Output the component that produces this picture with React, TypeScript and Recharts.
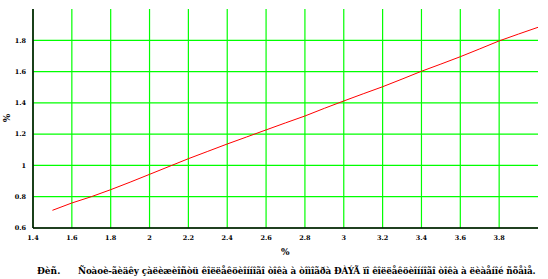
import React from 'react';
import { LineChart, Line, XAxis, YAxis, CartesianGrid } from 'recharts';

const xValues = [1.5, 1.6, 1.7, 1.8, 1.9, 2.0, 2.1, 2.2, 2.3, 2.4, 2.5, 2.6, 2.7, 2.8, 2.9, 3.0, 3.1, 3.2, 3.3, 3.4, 3.5, 3.6, 3.7, 3.8, 3.9, 4.0];
const yValues = [0.713, 0.76, 0.8, 0.845, 0.893, 0.943, 0.993, 1.043, 1.09, 1.137, 1.182, 1.227, 1.272, 1.316, 1.365, 1.412, 1.458, 1.503, 1.552, 1.602, 1.648, 1.695, 1.745, 1.796, 1.84, 1.883];
const xTicks = [1.4, 1.6, 1.8, 2, 2.2, 2.4, 2.6, 2.8, 3, 3.2, 3.4, 3.6, 3.8];
const yTicks = [0.6, 0.8, 1, 1.2, 1.4, 1.6, 1.8];
const xAxisLabel = '%';
const yAxisLabel = '%';
const captionLead = 'Đèñ.';
const captionText = 'Ñoàoè-ãèäêy çàëèæèîñòü êîëëåêöèîííîãî òîêà à òîìîãðà ĐÀÝÃ ïî êîëëåêöèîííîãî òîêà à ëèàåíîé ñõåìå.';

const data = xValues.map((x, i) => ({ x, y: yValues[i] }));

const font = '"DejaVu Serif", "Liberation Serif", serif';

export default function App() {
  return (
    <div style={{ position: 'absolute', left: 0, top: 0, width: 548, height: 279, background: '#fff', fontFamily: font }}>
      <LineChart width={548} height={279} data={data} margin={{ top: 9, right: 10, bottom: 21, left: 0 }}>
        <CartesianGrid stroke="#00ff00" strokeWidth={1.2} horizontalValues={yTicks} verticalValues={xTicks} />
        <XAxis
          dataKey="x"
          type="number"
          domain={[1.4, 4.0]}
          ticks={xTicks}
          allowDataOverflow
          height={30}
          axisLine={{ stroke: '#000', strokeWidth: 1.5 }}
          tickLine={false}
          tickMargin={1}
          tick={{ fontSize: 6.5, fontWeight: 'bold', fill: '#000', fontFamily: font }}
          tickFormatter={(v: number) => String(v)}
        />
        <YAxis
          type="number"
          domain={[0.6, 2.0]}
          ticks={yTicks}
          allowDataOverflow
          width={33}
          axisLine={{ stroke: '#000', strokeWidth: 1.5 }}
          tickLine={false}
          tickMargin={1}
          tick={{ fontSize: 6.5, fontWeight: 'bold', fill: '#000', fontFamily: font }}
          tickFormatter={(v: number) => String(v)}
        />
        <Line type="linear" dataKey="y" stroke="#ff0000" strokeWidth={1} dot={false} isAnimationActive={false} />
      </LineChart>
      <div style={{ position: 'absolute', left: 281, top: 247, fontSize: 9, fontWeight: 'bold', lineHeight: '10px' }}>{xAxisLabel}</div>
      <div style={{ position: 'absolute', left: 3, top: 113, fontSize: 9, fontWeight: 'bold', lineHeight: '10px', transform: 'rotate(-90deg)' }}>{yAxisLabel}</div>
      <div style={{ position: 'absolute', left: 37, top: 266, fontSize: 9, fontWeight: 'bold', lineHeight: '11px', whiteSpace: 'nowrap' }}>{captionLead}</div>
      <div style={{ position: 'absolute', left: 78, top: 266, fontSize: 8.8, fontWeight: 'bold', lineHeight: '11px', whiteSpace: 'nowrap', letterSpacing: '-0.15px' }}>{captionText}</div>
    </div>
  );
}
